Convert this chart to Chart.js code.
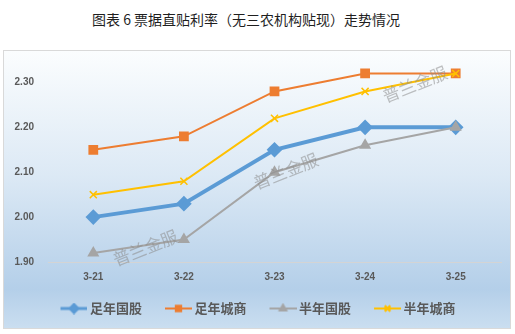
<!DOCTYPE html>
<html>
<head>
<meta charset="utf-8">
<script src="https://cdn.jsdelivr.net/npm/chart.js@4/dist/chart.umd.min.js"></script>
<style>
  body { margin: 0; background: #fff; width: 515px; height: 334px; position: relative; overflow: hidden; }
  #title {
    position: absolute; left: 92px; top: 9px; line-height: 20px;
    font-family: "Noto Sans CJK SC", sans-serif; font-size: 14px; color: #1f1f1f; white-space: nowrap;
  }
  #box {
    position: absolute; left: 3px; top: 50px; width: 506px; height: 277px;
    border: 1px solid #d9d9d9;
    background: linear-gradient(to bottom, #fbfdfe 0%, #dce9f5 45%, #b4cfe9 86%, #cadef0 100%);
  }
  #box canvas { display: block; }
</style>
</head>
<body>
<div id="title">图表 6 票据直贴利率（无三农机构贴现）走势情况</div>
<div id="box"><canvas id="rateChart" width="506" height="277"></canvas></div>
<script>
// 数据
const categories = ['3-21', '3-22', '3-23', '3-24', '3-25'];
const seriesNames = ['足年国股', '足年城商', '半年国股', '半年城商'];
const zuNianGuoGu = [2.00, 2.03, 2.15, 2.20, 2.20];
const zuNianChengShang = [2.15, 2.18, 2.28, 2.32, 2.32];
const banNianGuoGu = [1.92, 1.95, 2.10, 2.16, 2.20];
const banNianChengShang = [2.05, 2.08, 2.22, 2.28, 2.32];
const yTicks = [1.90, 2.00, 2.10, 2.20, 2.30];

const colors = ['#5b9bd5', '#ed7d31', '#a5a5a5', '#ffc000'];
const font = '"Noto Sans CJK SC", "Liberation Sans", sans-serif';

// 图例用的小图标（线 + 标记）
function legendIcon(color, lineW, style) {
    const c = document.createElement('canvas');
    c.width = 34; c.height = 12;
    const ctx = c.getContext('2d');
    ctx.strokeStyle = color;
    ctx.fillStyle = color;
    ctx.lineWidth = lineW;
    ctx.beginPath();
    ctx.moveTo(7, 6); ctx.lineTo(34, 6);
    ctx.stroke();
    Chart.helpers.drawPoint(ctx, { pointStyle: style, radius: 3.8, rotation: 0, borderWidth: 1.2 }, 20.5, 6);
    if (style === 'crossRot') ctx.stroke(); else ctx.fill();
    return c;
}
const icons = [
    legendIcon(colors[0], 3, 'rectRot'),
    legendIcon(colors[1], 2, 'rect'),
    legendIcon(colors[2], 2, 'triangle'),
    legendIcon(colors[3], 2, 'crossRot')
];

// 水印
const watermarks = [[0.215, 0.93], [0.525, 0.55], [0.81, 0.12]];
const watermarkPlugin = {
    id: 'watermark',
    afterDatasetsDraw(chart) {
        const a = chart.chartArea;
        const ctx = chart.ctx;
        ctx.save();
        ctx.font = '17px ' + font;
        ctx.fillStyle = 'rgba(140,140,140,0.55)';
        ctx.textAlign = 'center';
        ctx.textBaseline = 'middle';
        watermarks.forEach(w => {
            ctx.save();
            ctx.translate(a.left + w[0] * (a.right - a.left), a.top + w[1] * (a.bottom - a.top));
            ctx.rotate(-22 * Math.PI / 180);
            ctx.fillText('普兰金服', 0, 0);
            ctx.restore();
        });
        ctx.restore();
    }
};

const ctx = document.getElementById('rateChart').getContext('2d');
const rateChart = new Chart(ctx, {
    type: 'line',
    data: {
        labels: categories,
        datasets: [{
            label: seriesNames[0],
            data: zuNianGuoGu,
            borderColor: colors[0],
            backgroundColor: colors[0],
            borderWidth: 4,
            pointStyle: 'rectRot',
            pointRadius: 5,
            order: 3
        }, {
            label: seriesNames[1],
            data: zuNianChengShang,
            borderColor: colors[1],
            backgroundColor: colors[1],
            borderWidth: 2,
            pointStyle: 'rect',
            pointRadius: 5.5,
            order: 2
        }, {
            label: seriesNames[2],
            data: banNianGuoGu,
            borderColor: colors[2],
            backgroundColor: colors[2],
            borderWidth: 2,
            pointStyle: 'triangle',
            pointRadius: 5,
            order: 1
        }, {
            label: seriesNames[3],
            data: banNianChengShang,
            borderColor: colors[3],
            backgroundColor: colors[3],
            borderWidth: 2,
            pointStyle: 'crossRot',
            pointRadius: 5,
            pointBorderWidth: 1.5,
            order: 0
        }]
    },
    options: {
        responsive: false,
        animation: false,
        layout: { padding: { top: 9, right: 1, left: 0, bottom: 3 } },
        plugins: {
            tooltip: { enabled: false },
            legend: {
                position: 'bottom',
                labels: {
                    usePointStyle: true,
                    pointStyleWidth: 26,
                    padding: 20,
                    color: '#595959',
                    font: { family: font, size: 13, weight: 'bold', lineHeight: 1 },
                    sort: (a, b) => a.datasetIndex - b.datasetIndex,
                    generateLabels(chart) {
                        const items = Chart.defaults.plugins.legend.labels.generateLabels(chart);
                        items.forEach(it => { it.pointStyle = icons[it.datasetIndex]; });
                        return items;
                    }
                }
            }
        },
        scales: {
            x: {
                offset: true,
                grid: { display: false, drawTicks: false },
                border: { display: true, color: '#d4d4d4', width: 1 },
                ticks: {
                    padding: 9,
                    color: '#595959',
                    font: { family: '"Liberation Sans", sans-serif', size: 10, weight: 'bold' }
                },
                afterFit(scale) { scale.height = 20; }
            },
            y: {
                min: 1.9,
                max: 2.35,
                grid: { display: false, drawTicks: false },
                border: { display: false },
                afterBuildTicks(scale) { scale.ticks = yTicks.map(v => ({ value: v })); },
                ticks: {
                    padding: 14,
                    color: '#595959',
                    font: { family: '"Liberation Sans", sans-serif', size: 10, weight: 'bold' },
                    callback: v => v.toFixed(2)
                },
                afterFit(scale) {
                    scale.width = 44;
                    scale.paddingTop = 0;
                    scale.paddingBottom = 0;
                }
            }
        }
    },
    plugins: [watermarkPlugin]
});
</script>
</body>
</html>
